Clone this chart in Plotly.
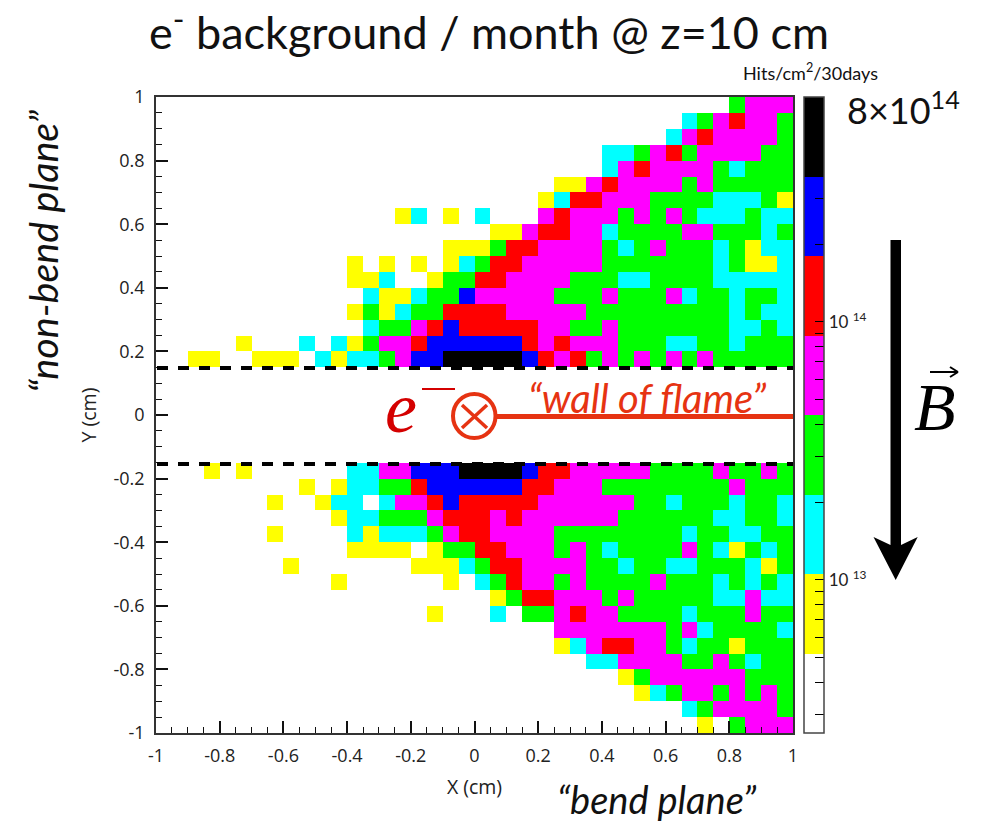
import math
import plotly.graph_objects as go

# Cell classes, top row first; 40 x 40 bins over [-1, 1]^2
ROWS = [
    ".........." ".........." ".........." "......GMMM",
    ".........." ".........." ".........." "...CGMRMMG",
    ".........." ".........." ".........." "..CMRMMMMG",
    ".........." ".........." "........CC" "GMRGMMMMGG",
    ".........." ".........." "........CM" "RMMMMGCGGG",
    ".........." ".........." ".....YYMRM" "MMMGMGGGGG",
    ".........." ".........." "....YCRRMM" "MGGGGCCCGY",
    ".........." ".....YC.Y." "C...MRMMMG" "MGMGCCCGCC",
    ".........." ".........." ".YYMRRMMCG" "GGGMMGGGCG",
    ".........." "........YY" "YGRRMMMMGC" "GMGGGCGYCC",
    ".........." "..Y.Y.Y.YC" "GRRMMMMMGG" "GGGGGCGYYC",
    ".........." "..YYC..YGG" "RRMMMMGGGC" "CGGGGCCCCC",
    ".........." "...CYYCGGB" "MMMMMGGGMG" "GGMCGGCGGC",
    ".........." "..YGYCGGRR" "RRMMMMMGGG" "GGGGGGCGCC",
    ".........." "...CGGMRBR" "RRRRMMGGMG" "GGGGGGCCGC",
    ".....Y...C" ".CYGMMRBBB" "BBBRMRMMMG" "GGCCGGCGGG",
    "..YY..YYY." "CYCCGMBBKK" "KKKBRMRGMG" "MGMGMGGGGG",
    "." * 40,
    "." * 40,
    "." * 40,
    "." * 40,
    "." * 40,
    "." * 40,
    "...Y.Y...." "..CCMMBBBK" "KKKBRRMMMM" "MGGGGMGGMG",
    ".........Y" ".YCCGGRBBB" "BBBRRMMMGG" "GGGGGGMGGG",
    ".......Y.." "YCC.CMMRBR" "RRRRMMMMMM" "GGCGGGCGGC",
    ".........." ".YCCGGGMRR" "RMRMMMMMMG" "GGGGGCCGGC",
    ".......Y.." "..CYCCCGMR" "RMMMMGGGGG" "GGGCGGCCGG",
    ".........." "..YYYY.YGG" "RRMMMGMGCG" "GGGMGCYGCG",
    "........Y." "......YYYC" "GRRMMMMGGC" "GGCCGGGCYG",
    ".........." ".Y......Y." "CGRMMGMGGG" "GMGGGCGCGC",
    ".........." ".........." ".YGRRMMMGM" "GGGGGCCMCC",
    ".........." ".......Y.." ".C.GGMRMMG" "GGGCGGGMGG",
    ".........." ".........." ".....MMMMM" "MMGMCGGGGC",
    ".........." ".........." ".....YCMRR" "MMGCGGYGGG",
    ".........." ".........." ".......CCM" "MMMGGMGCGG",
    ".........." ".........." ".........Y" "GMMMMMMGGG",
    ".........." ".........." ".........." "YCGMMGMGMG",
    ".........." ".........." ".........." "...CGMMMMG",
    ".........." ".........." ".........." "....Y.GMMM",
]
# Representative Hits/cm2/30days per class
LEVEL_HITS = {"Y": 7.1e12, "C": 1.45e13, "G": 3.0e13, "M": 6.1e13,
              "R": 1.25e14, "B": 2.5e14, "K": 5.2e14}
HIT_MIN = 2.55e12
HIT_MAX = 7.45e14
BAND_COLORS = ["#ffffff", "#ffff00", "#00ffff", "#00ff00",
               "#ff00ff", "#ff0000", "#0000ff", "#000000"]
CBAR_TICKS = [3e12, 4e12, 5e12, 6e12, 7e12, 8e12, 9e12, 1e13,
              2e13, 3e13, 4e13, 5e13, 6e13, 7e13, 8e13, 9e13, 1e14,
              2e14, 3e14, 4e14, 5e14, 6e14, 7e14]
CBAR_LABELS = {1e13: "10 <sup>13</sup>", 1e14: "10 <sup>14</sup>"}
AXIS_TICKS = [-1, -0.8, -0.6, -0.4, -0.2, 0, 0.2, 0.4, 0.6, 0.8, 1]
AXIS_LABELS = ["-1", "-0.8", "-0.6", "-0.4", "-0.2", "0", "0.2", "0.4", "0.6", "0.8", "1"]

X_CENTERS = [-0.975 + 0.05 * i for i in range(40)]
Y_CENTERS = [0.975 - 0.05 * r for r in range(40)]
Z = [[None if c == "." else math.log10(LEVEL_HITS[c]) for c in row] for row in ROWS]

L, R, T, B = 156, 793, 97, 733
W, H = 990, 821
INK = "#222222"
RED = "#e63312"
FONT = "Lato"


def px(x):
    return (x - L) / (R - L)


def py(y):
    return (B - y) / (B - T)


zmin, zmax = math.log10(HIT_MIN), math.log10(HIT_MAX)
scale = []
for k, c in enumerate(BAND_COLORS):
    scale += [[k / 8, c], [(k + 1) / 8, c]]

fig = go.Figure(go.Heatmap(
    x=X_CENTERS, y=Y_CENTERS, z=Z, zmin=zmin, zmax=zmax,
    colorscale=scale, hoverongaps=False,
    colorbar=dict(
        thickness=20, thicknessmode="pixels", len=1, lenmode="fraction",
        xref="paper", x=px(804), xanchor="left", xpad=0,
        yref="paper", y=0.5, yanchor="middle", ypad=0,
        outlinecolor="#444444", outlinewidth=1.5,
        tickmode="array",
        tickvals=[math.log10(v) for v in CBAR_TICKS],
        ticktext=[CBAR_LABELS.get(v, "") for v in CBAR_TICKS],
        ticks="inside", ticklen=9, tickwidth=1, tickcolor="#000000",
        tickfont=dict(family=FONT, size=17, color=INK),
    ),
))

shapes = []


def seg(x0, y0, x1, y1, color, width, dash=None):
    shapes.append(dict(type="line", xref="paper", yref="paper",
                       x0=px(x0), y0=py(y0), x1=px(x1), y1=py(y1),
                       line=dict(color=color, width=width, dash=dash)))


# dashed beam-gap lines
for yline in (368, 464):
    seg(157, yline, 793, yline, "#000000", 4, "11px,10px")
# wall of flame line, circled cross, e- bar
seg(497, 416.5, 793, 416.5, RED, 5)
shapes.append(dict(type="circle", xref="paper", yref="paper",
                   x0=px(453), x1=px(495.5), y0=py(394), y1=py(438),
                   line=dict(color=RED, width=4)))
seg(462, 405, 487, 428, RED, 3.5)
seg(462, 428, 487, 405, RED, 3.5)
seg(422, 389, 455, 389, "#d40000", 2)
# decade ticks across the colour bar
for v in (1e13, 1e14):
    frac = (math.log10(v) - zmin) / (zmax - zmin)
    shapes.append(dict(type="line", xref="paper", yref="paper",
                       x0=px(804), x1=px(824), y0=frac, y1=frac,
                       line=dict(color="#000000", width=1)))
# big field arrow
pts = [(890.5, 240), (901, 240), (901, 545), (917.7, 537), (895.7, 580), (873.5, 537), (890.5, 545)]
shapes.append(dict(type="path", xref="paper", yref="paper",
                   path="M " + " L ".join(f"{px(a):.5f} {py(b):.5f}" for a, b in pts) + " Z",
                   fillcolor="#000000", line=dict(color="#000000", width=0)))
# vector arrow above B
seg(930, 372, 957, 372, "#000000", 2)
seg(950, 367, 958, 372, "#000000", 2)
seg(950, 377, 958, 372, "#000000", 2)


def note(text, x, y, size, color="#111111", family=FONT, angle=0, anchor="center"):
    return dict(text=text, xref="paper", yref="paper", x=px(x), y=py(y),
                xanchor=anchor, yanchor="middle", showarrow=False, textangle=angle,
                font=dict(family=family, size=size, color=color))


annotations = [
    note("e<sup>-</sup> background / month @ z=10 cm", 489, 28.5, 45),
    note("Hits/cm<sup>2</sup>/30days", 810, 72, 18),
    note("8×10<sup>14</sup>", 903, 108, 36),
    note("<i>“non-bend plane”</i>", 42, 252, 39.5, angle=-90),
    note("<i>“bend plane”</i>", 657, 799, 38),
    note("<i>“wall of flame”</i>", 647, 398, 40, color=RED),
    note("<i>e</i>", 401, 408, 72, color="#d40000", family="Liberation Serif"),
    note("<i>B</i>", 935, 407, 68, color="#000000", family="Liberation Serif"),
]

axis = dict(
    range=[-1, 1], tickmode="array", tickvals=AXIS_TICKS, ticktext=AXIS_LABELS,
    ticks="inside", ticklen=12, tickwidth=1.5,
    tickcolor="#111111", showline=True, linecolor="#333333", linewidth=1.5, mirror=True,
    showgrid=False, zeroline=False, automargin=False,
    tickfont=dict(family="Open Sans", size=18, color=INK),
    minor=dict(dtick=0.05, tick0=-1, ticks="inside", ticklen=6, tickwidth=1.3,
               tickcolor="#111111", showgrid=False),
)

fig.update_layout(
    width=W, height=H, autosize=False,
    margin=dict(l=L, r=W - R, t=T, b=H - B, autoexpand=False),
    paper_bgcolor="#ffffff", plot_bgcolor="#ffffff",
    xaxis=dict(axis, ticklabelstandoff=6,
               title=dict(text="X (cm)", standoff=14,
                          font=dict(family="Open Sans", size=19.5, color=INK))),
    yaxis=dict(axis, ticklabelstandoff=6,
               title=dict(text="Y (cm)", standoff=12,
                          font=dict(family="Open Sans", size=19.5, color=INK))),
    shapes=shapes, annotations=annotations,
)

assert all(len(r) == 40 for r in ROWS) and len(ROWS) == 40
fig.write_html("out.html", post_script="document.body.style.margin='0';",
               config=dict(displayModeBar=False))
